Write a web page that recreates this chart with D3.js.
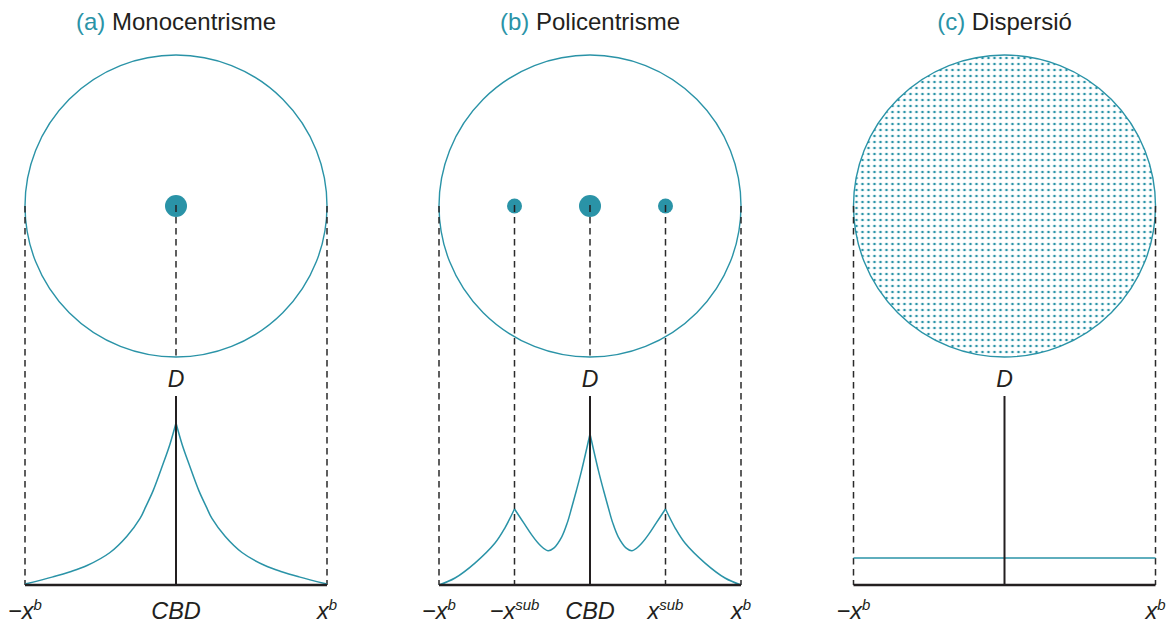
<html>
<head>
<style>
    body { margin: 0; background: #fff; }
    svg text { font-family: "Liberation Sans", Arial, Helvetica, sans-serif; fill: #231f20; }
</style>
</head>
<body>
<svg id="chart" width="1174" height="624"></svg>
<script src="https://cdnjs.cloudflare.com/ajax/libs/d3/7.8.5/d3.min.js"></script>
<script>
    // panels
    var letters = ["(a)", "(b)", "(c)"];
    var titles = ["Monocentrisme", "Policentrisme", "Dispersió"];
    var centreX = [176, 590, 1004.5];

    // density profiles: distance from CBD (-1 = -x^b, 1 = x^b) and density (0..1 of axis)
    var monoDist    = [-1, -0.815, -0.7, -0.589, -0.437, -0.325, -0.238, -0.2, -0.152, -0.086, -0.04, 0,
                       0.04, 0.086, 0.152, 0.2, 0.238, 0.325, 0.437, 0.589, 0.7, 0.815, 1];
    var monoDensity = [0.005, 0.043, 0.07, 0.103, 0.172, 0.258, 0.352, 0.415, 0.498, 0.64, 0.745, 0.857,
                       0.745, 0.64, 0.498, 0.415, 0.352, 0.258, 0.172, 0.103, 0.07, 0.043, 0.005];

    var polyDist    = [-1, -0.894, -0.762, -0.629, -0.565, -0.5, -0.44, -0.386, -0.33, -0.278, -0.24, -0.187, -0.15, -0.121, -0.09, -0.055, 0,
                       0.055, 0.09, 0.121, 0.15, 0.187, 0.24, 0.278, 0.33, 0.386, 0.44, 0.5, 0.565, 0.629, 0.762, 0.894, 1];
    var polyDensity = [0, 0.037, 0.116, 0.222, 0.3, 0.402, 0.33, 0.265, 0.21, 0.181, 0.195, 0.255, 0.33, 0.41, 0.5, 0.608, 0.799,
                       0.608, 0.5, 0.41, 0.33, 0.255, 0.195, 0.181, 0.21, 0.265, 0.33, 0.402, 0.3, 0.222, 0.116, 0.037, 0];

    var dispDist    = [-1, 1];
    var dispDensity = [0.143, 0.143];

    // employment centres drawn on the map (position, radius)
    var monoCentres = [[0, 11]];
    var polyCentres = [[-0.5, 7.5], [0, 11], [0.5, 7.5]];
    var dispCentres = [];

    // tick labels under the axis
    var monoTicks = [[-1, "−x", "b"], [0, "CBD", ""], [1, "x", "b"]];
    var polyTicks = [[-1, "−x", "b"], [-0.5, "−x", "sub"], [0, "CBD", ""], [0.5, "x", "sub"], [1, "x", "b"]];
    var dispTicks = [[-1, "−x", "b"], [1, "x", "b"]];

    var panels = [
        { dist: monoDist, dens: monoDensity, centres: monoCentres, ticks: monoTicks, dots: false },
        { dist: polyDist, dens: polyDensity, centres: polyCentres, ticks: polyTicks, dots: false },
        { dist: dispDist, dens: dispDensity, centres: dispCentres, ticks: dispTicks, dots: true }
    ];

    var teal = "#2a93a7";
    var ink = "#231f20";
    var dashGrey = "#2a2a2a";
    var mapY = 206;
    var baseY = 585;
    var topY = 396;

    var svg = d3.select("#chart");

    // dot pattern for dispersion
    var pat = svg.append("defs").append("pattern")
        .attr("id", "dots")
        .attr("patternUnits", "userSpaceOnUse")
        .attr("x", 1.5).attr("y", 1)
        .attr("width", 6).attr("height", 6);
    pat.append("circle").attr("cx", 3).attr("cy", 3).attr("r", 1.35).attr("fill", teal);

    var y = d3.scaleLinear().domain([0, 1]).range([baseY, topY]);

    panels.forEach(function(p, i) {
        var x = d3.scaleLinear().domain([-1, 1]).range([centreX[i] - 151, centreX[i] + 151]);
        var r = x(1) - x(0);
        var g = svg.append("g");

        // title
        var t = g.append("text")
            .attr("x", x(0)).attr("y", 30)
            .attr("text-anchor", "middle")
            .style("font-size", "24px");
        t.append("tspan").style("fill", teal).text(letters[i] + " ");
        t.append("tspan").text(titles[i]);

        // map circle
        g.append("circle")
            .attr("cx", x(0)).attr("cy", mapY).attr("r", r)
            .attr("fill", p.dots ? "url(#dots)" : "none")
            .attr("stroke", teal).attr("stroke-width", 1.4);

        // dashed guides
        var guides = p.ticks.filter(function(d) { return d[0] != 0; });
        g.selectAll(".guide").data(guides).enter().append("line")
            .attr("x1", function(d) { return x(d[0]); })
            .attr("x2", function(d) { return x(d[0]); })
            .attr("y1", mapY).attr("y2", baseY)
            .attr("stroke", dashGrey).attr("stroke-width", 1.5)
            .attr("stroke-dasharray", "6.5,4.5");
        if (!p.dots) {
            g.append("line")
                .attr("x1", x(0)).attr("x2", x(0))
                .attr("y1", mapY).attr("y2", mapY + r)
                .attr("stroke", dashGrey).attr("stroke-width", 1.5)
                .attr("stroke-dasharray", "6.5,4.5");
        }

        // centres
        g.selectAll(".centre").data(p.centres).enter().append("circle")
            .attr("cx", function(d) { return x(d[0]); })
            .attr("cy", mapY)
            .attr("r", function(d) { return d[1]; })
            .attr("fill", teal);
        g.selectAll(".tickmark").data(p.centres).enter().append("line")
            .attr("x1", function(d) { return x(d[0]); })
            .attr("x2", function(d) { return x(d[0]); })
            .attr("y1", mapY - 1).attr("y2", mapY + 6)
            .attr("stroke", ink).attr("stroke-width", 1.5);

        // density curve, split at peaks so the cusps stay sharp
        var pts = p.dist.map(function(d, k) { return [d, p.dens[k]]; });
        var segs = [[pts[0]]];
        for (var k = 1; k < pts.length; k++) {
            segs[segs.length - 1].push(pts[k]);
            if (k < pts.length - 1 && pts[k][1] > pts[k - 1][1] && pts[k][1] > pts[k + 1][1]) {
                segs.push([pts[k]]);
            }
        }
        var line = d3.line()
            .x(function(d) { return x(d[0]); })
            .y(function(d) { return y(d[1]); })
            .curve(d3.curveCatmullRom.alpha(0.5));
        g.selectAll(".curve").data(segs).enter().append("path")
            .attr("d", line)
            .attr("fill", "none")
            .attr("stroke", teal).attr("stroke-width", 1.5);

        // axes
        g.append("line")
            .attr("x1", x(-1)).attr("x2", x(1))
            .attr("y1", baseY).attr("y2", baseY)
            .attr("stroke", ink).attr("stroke-width", 2.5);
        g.append("line")
            .attr("x1", x(0)).attr("x2", x(0))
            .attr("y1", topY).attr("y2", baseY)
            .attr("stroke", ink).attr("stroke-width", 2);
        g.append("text")
            .attr("x", x(0)).attr("y", 387)
            .attr("text-anchor", "middle")
            .style("font-size", "23px").style("font-style", "italic")
            .text("D");

        // tick labels
        var lab = g.selectAll(".lab").data(p.ticks).enter().append("text")
            .attr("x", function(d) { return x(d[0]); })
            .attr("y", 619)
            .attr("text-anchor", "middle")
            .style("font-size", "23.5px").style("font-style", "italic");
        lab.append("tspan").text(function(d) { return d[1]; });
        lab.append("tspan")
            .attr("dy", -9)
            .style("font-size", "15px")
            .text(function(d) { return d[2]; });
    });
</script>
</body>
</html>
